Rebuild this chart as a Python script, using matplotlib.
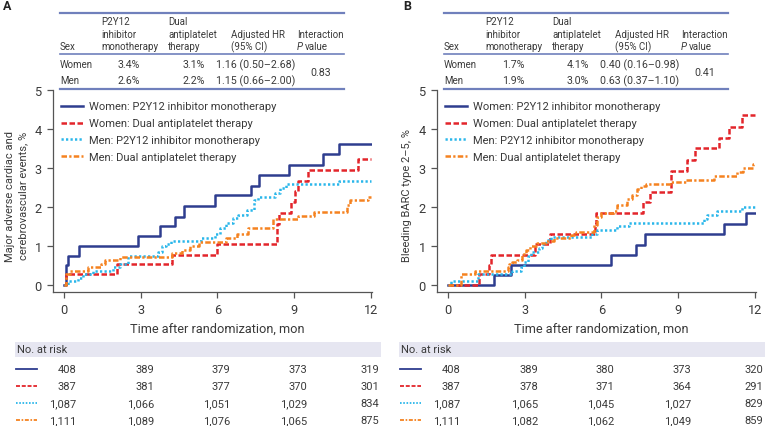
import matplotlib
matplotlib.use("Agg")
import matplotlib.pyplot as plt
import matplotlib.transforms as mtransforms
from matplotlib.lines import Line2D
from matplotlib.patches import Rectangle

plt.rcParams['font.family'] = ['Roboto', 'DejaVu Sans']

# ---------------- data ----------------
series_labels = ['Women: P2Y12 inhibitor monotherapy',
                 'Women: Dual antiplatelet therapy',
                 'Men: P2Y12 inhibitor monotherapy',
                 'Men: Dual antiplatelet therapy']

# panel A: major adverse cardiac and cerebrovascular events
a_women_mono_t = [0, 0.07, 0.14, 0.59, 2.88, 3.76, 4.34, 4.68, 5.91, 7.30, 7.64, 8.82, 10.15, 10.77, 12]
a_women_mono_y = [0, 0.50, 0.75, 1.00, 1.25, 1.50, 1.75, 2.02, 2.30, 2.55, 2.82, 3.08, 3.35, 3.62, 3.62]
a_women_dapt_t = [0, 0.07, 2.09, 4.24, 6.0, 8.32, 8.42, 8.9, 9.05, 9.17, 9.56, 11.49, 12]
a_women_dapt_y = [0, 0.27, 0.53, 0.78, 1.05, 1.57, 1.85, 2.12, 2.40, 2.66, 2.94, 3.24, 3.24]
a_men_mono_t = [0, 0.17, 0.56, 0.76, 1.15, 1.93, 2.2, 2.52, 3.68, 3.83, 4.0, 4.2, 5.35, 5.9, 6.1,
                6.35, 6.6, 6.8, 7.15, 7.45, 7.6, 8.25, 8.45, 8.7, 10.77, 12]
a_men_mono_y = [0, 0.10, 0.19, 0.27, 0.35, 0.45, 0.55, 0.75, 0.85, 1.00, 1.05, 1.13, 1.20, 1.30, 1.45,
                1.60, 1.72, 1.80, 1.92, 2.17, 2.25, 2.35, 2.48, 2.58, 2.67, 2.67]
a_men_dapt_t = [0, 0.07, 0.23, 0.95, 1.43, 1.6, 2.2, 4.24, 4.6, 4.93, 5.3, 6.34, 6.76, 7.2, 8.18,
                9.17, 9.78, 11.06, 11.2, 11.9, 12]
a_men_dapt_y = [0, 0.27, 0.37, 0.45, 0.55, 0.65, 0.72, 0.82, 0.90, 1.00, 1.10, 1.20, 1.30, 1.45, 1.68,
                1.77, 1.87, 2.04, 2.17, 2.25, 2.25]

# panel B: bleeding BARC type 2-5
b_women_mono_t = [0, 1.8, 2.48, 6.37, 7.37, 7.70, 10.8, 11.67, 12]
b_women_mono_y = [0, 0.25, 0.50, 0.76, 1.03, 1.30, 1.57, 1.85, 1.85]
b_women_dapt_t = [0, 1.21, 1.6, 1.69, 3.39, 3.98, 5.74, 5.80, 7.64, 7.9, 8.71, 9.37, 9.65, 10.6,
                  11.0, 11.52, 12]
b_women_dapt_y = [0, 0.27, 0.52, 0.78, 1.05, 1.30, 1.57, 1.85, 2.12, 2.38, 2.93, 3.20, 3.50, 3.77,
                  4.05, 4.37, 4.37]
b_men_mono_t = [0, 0.1, 1.17, 2.52, 2.85, 2.97, 3.13, 3.24, 3.56, 3.69, 3.82, 4.02, 4.15, 5.65, 5.84,
                6.63, 7.1, 10.02, 10.12, 10.54, 11.52, 12]
b_men_mono_y = [0, 0.10, 0.27, 0.35, 0.45, 0.60, 0.75, 0.85, 0.95, 1.05, 1.15, 1.22, 1.22, 1.32, 1.42,
                1.52, 1.60, 1.70, 1.80, 1.90, 2.00, 2.00]
b_men_dapt_t = [0, 0.5, 1.04, 2.35, 2.39, 2.52, 2.69, 2.91, 3.04, 3.21, 3.47, 3.82, 4.15, 4.8, 5.0,
                5.72, 5.84, 5.97, 6.5, 6.63, 7.02, 7.21, 7.41, 7.54, 7.74, 8.71, 9.3, 10.4, 11.3,
                11.56, 11.95, 12]
b_men_dapt_y = [0, 0.27, 0.35, 0.45, 0.55, 0.60, 0.65, 0.80, 0.90, 1.00, 1.08, 1.12, 1.20, 1.28, 1.35,
                1.55, 1.75, 1.85, 1.90, 2.05, 2.20, 2.30, 2.45, 2.55, 2.60, 2.65, 2.70, 2.80, 2.90,
                3.00, 3.10, 3.10]

risk_times = [0, 3, 6, 9, 12]
a_at_risk = [['408', '389', '379', '373', '319'],
             ['387', '381', '377', '370', '301'],
             ['1,087', '1,066', '1,051', '1,029', '834'],
             ['1,111', '1,089', '1,076', '1,065', '875']]
b_at_risk = [['408', '389', '380', '373', '320'],
             ['387', '378', '371', '364', '291'],
             ['1,087', '1,065', '1,045', '1,027', '829'],
             ['1,111', '1,082', '1,062', '1,049', '859']]

a_table = [['Women', '3.4%', '3.1%', '1.16 (0.50\u20132.68)'],
           ['Men', '2.6%', '2.2%', '1.15 (0.66\u20132.00)']]
a_p = '0.83'
b_table = [['Women', '1.7%', '4.1%', '0.40 (0.16\u20130.98)'],
           ['Men', '1.9%', '3.0%', '0.63 (0.37\u20131.10)']]
b_p = '0.41'

a_ylabel = 'Major adverse cardiac and\ncerebrovascular events, %'
b_ylabel = 'Bleeding BARC type 2\u20135, %'

# ---------------- style ----------------
W, H = 768, 427
colors = ['#2e3d8f', '#e3252b', '#29b6ea', '#f58220']
styles = ['-', (0, (2.2, 1.0)), (0, (0.9, 0.9)), (0, (2.2, 0.9, 0.9, 0.9))]
table_line = '#7080bc'
text_col = '#3a3a3a'
FS = 8.0


def fx(px):
    return px / W


def fy(py):
    return 1 - py / H


fig = plt.figure(figsize=(W / 100, H / 100), dpi=100)


def panel(off, letter, curves, at_risk, table, pval, ylabel, ylab_x):
    ax = fig.add_axes([fx(52.7 + off), fy(293), fx(319.3), (293 - 91) / H])
    handles = []
    for (t, y), c, ls in zip(curves, colors, styles):
        h, = ax.step(t, y, where='post', color=c, lw=1.8, linestyle=ls)
        handles.append(h)
    ax.set_xlim(-0.44, 12.05)
    ax.set_ylim(-0.18, 5.0)
    ax.set_xticks(risk_times)
    ax.set_yticks(range(6))
    for s in ['top', 'right']:
        ax.spines[s].set_visible(False)
    for s in ['left', 'bottom']:
        ax.spines[s].set_color('#555555')
        ax.spines[s].set_linewidth(0.9)
    ax.tick_params(length=4, width=0.9, color='#555555', labelsize=FS + 1.2,
                   labelcolor=text_col, pad=4)
    ax.patch.set_alpha(0)

    leg = ax.legend(handles, series_labels, loc='upper left',
                    bbox_to_anchor=(fx(61 + off), fy(102.5)), bbox_transform=fig.transFigure,
                    frameon=False, fontsize=FS, handlelength=2.0, handletextpad=0.5,
                    labelspacing=0.62, borderpad=0, borderaxespad=0)
    for txt in leg.get_texts():
        txt.set_color(text_col)

    fig.text(fx(ylab_x + off), fy(196), ylabel, rotation=90, ha='center', va='center',
             fontsize=FS, color=text_col, linespacing=1.4)
    fig.text(fx(217 + off), fy(329), 'Time after randomization, mon', ha='center',
             va='center', fontsize=FS + 1.2, color=text_col)
    fig.text(fx(7 + off + (16 if off else 0)), fy(6), letter, ha='center', va='center',
             fontsize=9, fontweight='bold', color='#222222')

    # summary table above the plot
    for ly, lw in [(14, 1.6), (55, 1.2), (90, 1.6)]:
        fig.add_artist(Line2D([fx(60 + off), fx(344 + off)], [fy(ly), fy(ly)],
                              color=table_line, lw=lw))
    tfs = FS - 1.0
    nfs = FS - 0.3
    hdr = [(60, ['', '', 'Sex']), (101, ['P2Y12', 'inhibitor', 'monotherapy']),
           (168, ['Dual', 'antiplatelet', 'therapy']), (231, ['', 'Adjusted HR', '(95% CI)'])]
    for x, lines in hdr:
        for ly, s in zip([22, 34.5, 47], lines):
            fig.text(fx(x + off), fy(ly), s, ha='left', va='center', fontsize=tfs, color=text_col)
    fig.text(fx(297 + off), fy(34.5), 'Interaction', ha='left', va='center', fontsize=tfs,
             color=text_col)
    fig.text(fx(297 + off), fy(47), 'P', ha='left', va='center', fontsize=tfs,
             color=text_col, style='italic')
    fig.text(fx(305 + off), fy(47), 'value', ha='left', va='center', fontsize=tfs,
             color=text_col)
    for ry, row in zip([65, 81], table):
        fig.text(fx(60 + off), fy(ry), row[0], ha='left', va='center', fontsize=tfs, color=text_col)
        fig.text(fx(129 + off), fy(ry), row[1], ha='center', va='center', fontsize=nfs, color=text_col)
        fig.text(fx(194 + off), fy(ry), row[2], ha='center', va='center', fontsize=nfs, color=text_col)
        fig.text(fx(256 + off), fy(ry), row[3], ha='center', va='center', fontsize=nfs, color=text_col)
    fig.text(fx(321 + off), fy(73), pval, ha='center', va='center', fontsize=nfs, color=text_col)

    # number at risk
    fig.add_artist(Rectangle((fx(15 + off), fy(358)), fx(366), (358 - 343) / H,
                             facecolor='#e6e6f1', edgecolor='none'))
    fig.text(fx(17 + off), fy(350.5), 'No. at risk', ha='left', va='center', fontsize=FS,
             color=text_col)
    blend = mtransforms.blended_transform_factory(ax.transData, fig.transFigure)
    shift = [0.5, 0.55, 0.5, 0.5, 0.33]
    for ry, vals, c, ls in zip([370, 387, 404, 421], at_risk, colors, styles):
        fig.add_artist(Line2D([fx(16 + off), fx(37 + off)], [fy(ry), fy(ry)], color=c,
                              lw=1.3, linestyle=ls))
        for t, s, v in zip(risk_times, shift, vals):
            ax.text(t + s, fy(ry), v, transform=blend, ha='right', va='center',
                    fontsize=FS, color=text_col, clip_on=False)
    return ax


a_curves = [(a_women_mono_t, a_women_mono_y), (a_women_dapt_t, a_women_dapt_y),
            (a_men_mono_t, a_men_mono_y), (a_men_dapt_t, a_men_dapt_y)]
b_curves = [(b_women_mono_t, b_women_mono_y), (b_women_dapt_t, b_women_dapt_y),
            (b_men_mono_t, b_men_mono_y), (b_men_dapt_t, b_men_dapt_y)]

panel(0, 'A', a_curves, a_at_risk, a_table, a_p, a_ylabel, 16.5)
panel(384, 'B', b_curves, b_at_risk, b_table, b_p, b_ylabel, 23)

fig.savefig('out.png', dpi=100)
